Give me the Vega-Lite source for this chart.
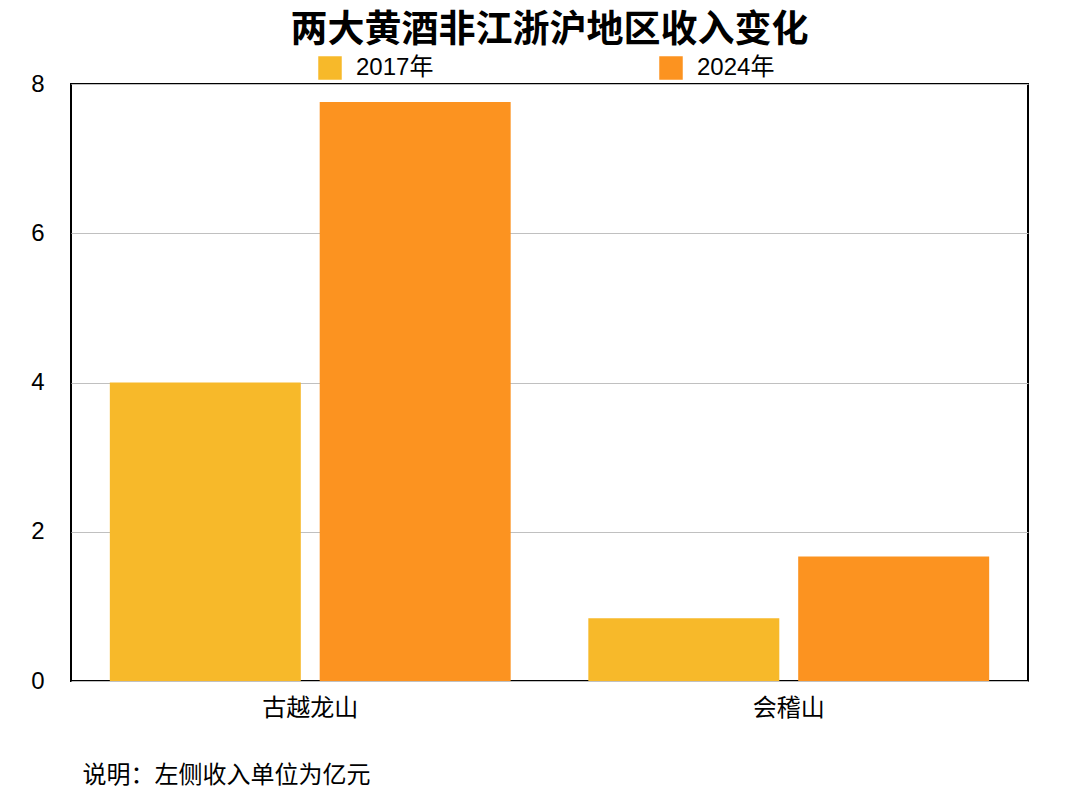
{
  "$schema": "https://vega.github.io/schema/vega-lite/v6.json",
  "width": 957,
  "height": 597,
  "autosize": "none",
  "padding": {"left": 71, "top": 84, "right": 56, "bottom": 129},
  "background": "white",
  "title": {
    "text": "两大黄酒非江浙沪地区收入变化",
    "font": "Liberation Sans, Noto Sans CJK SC",
    "fontSize": 37,
    "fontWeight": "bold",
    "color": "#000000",
    "anchor": "middle",
    "offset": 6
  },
  "data": {
    "values": [
      {"company": "古越龙山", "year": "2017年", "revenue": 4.0},
      {"company": "古越龙山", "year": "2024年", "revenue": 7.76},
      {"company": "会稽山", "year": "2017年", "revenue": 0.84},
      {"company": "会稽山", "year": "2024年", "revenue": 1.67}
    ]
  },
  "mark": {"type": "bar"},
  "encoding": {
    "x": {
      "field": "company",
      "type": "nominal",
      "sort": ["古越龙山", "会稽山"],
      "scale": {"paddingInner": 0, "paddingOuter": 0},
      "axis": {
        "title": "说明：左侧收入单位为亿元",
        "titleFont": "Liberation Sans, Noto Sans CJK SC",
        "titleFontSize": 24,
        "titleFontWeight": "normal",
        "titleColor": "#000000",
        "titleAnchor": "start",
        "titleAlign": "left",
        "titleBaseline": "middle",
        "titleX": 11,
        "titleY": 94,
        "labelAngle": 0,
        "labelFont": "Liberation Sans, Noto Sans CJK SC",
        "labelFontSize": 24,
        "labelColor": "#000000",
        "labelPadding": 15,
        "ticks": false,
        "domain": false
      }
    },
    "xOffset": {
      "field": "year",
      "type": "nominal",
      "scale": {"paddingInner": 0.09, "paddingOuter": 0.185}
    },
    "y": {
      "field": "revenue",
      "type": "quantitative",
      "scale": {"domain": [0, 8], "nice": false},
      "axis": {
        "title": null,
        "values": [0, 2, 4, 6, 8],
        "labelFont": "Liberation Sans, Noto Sans CJK SC",
        "labelFontSize": 24,
        "labelColor": "#000000",
        "labelPadding": 27,
        "ticks": false,
        "domain": false,
        "grid": true,
        "gridColor": "#c0c0c0",
        "gridWidth": 1
      }
    },
    "color": {
      "field": "year",
      "type": "nominal",
      "scale": {"domain": ["2017年", "2024年"], "range": ["#F7B92A", "#FC9320"]},
      "legend": {
        "title": null,
        "orient": "none",
        "legendX": 247,
        "legendY": -28,
        "direction": "horizontal",
        "symbolType": "square",
        "symbolSize": 552,
        "symbolStrokeWidth": 0,
        "symbolOpacity": 1,
        "labelFont": "Liberation Sans, Noto Sans CJK SC",
        "labelFontSize": 24,
        "labelColor": "#000000",
        "labelOffset": 14,
        "columnPadding": 225
      }
    }
  },
  "config": {
    "view": {"stroke": "#000000", "strokeWidth": 2}
  }
}
